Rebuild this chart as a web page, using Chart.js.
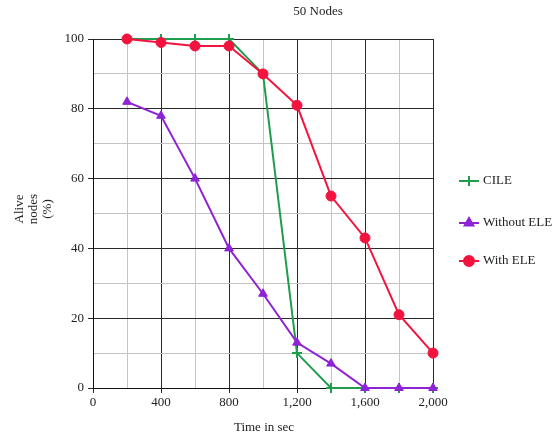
<!DOCTYPE html>
<html>
<head>
<meta charset="utf-8">
<script src="https://cdn.jsdelivr.net/npm/chart.js@4"></script>
<style>
  html, body { margin: 0; padding: 0; background: #fff; }
  #wrap { width: 553px; height: 438px; position: relative; }
</style>
</head>
<body>
<div id="wrap"><canvas id="c" width="553" height="438"></canvas></div>
<script>
// data
const times = [200, 400, 600, 800, 1000, 1200, 1400, 1600, 1800, 2000];
const cile = [100, 100, 100, 100, 90, 10, 0, 0, 0, 0];
const withoutEle = [82, 78, 60, 40, 27, 13, 7, 0, 0, 0];
const withEle = [100, 99, 98, 98, 90, 81, 55, 43, 21, 10];
const xTicks = [0, 400, 800, 1200, 1600, 2000];
const yTicks = [0, 20, 40, 60, 80, 100];

const GREEN = '#1e9e4c';
const PURPLE = '#8e22d6';
const RED = '#f2143e';
const FONT = '"Liberation Serif", "Times New Roman", serif';

function pts(vals) {
    return times.map((t, i) => ({ x: t, y: vals[i] }));
}

const series = [
    { label: 'CILE', data: cile, color: GREEN, style: 'cross', r: 5, order: 2 },
    { label: 'Without ELE', data: withoutEle, color: PURPLE, style: 'triangle', r: 5, order: 1 },
    { label: 'With ELE', data: withEle, color: RED, style: 'circle', r: 5, order: 0 }
];

// legend rows (y centre of each row)
const legendY = [181, 223, 261];

const textPlugin = {
    id: 'texts',
    afterDraw(chart) {
        const ctx = chart.ctx;
        ctx.save();
        ctx.fillStyle = '#222';
        ctx.font = '13px ' + FONT;
        ctx.textAlign = 'center';
        ctx.textBaseline = 'middle';
        ctx.fillText('50 Nodes', 318, 12);
        ctx.fillText('Time in sec', 264, 428);

        // y title, three rotated lines
        const yLines = ['Alive', 'nodes', '(%)'];
        yLines.forEach((s, i) => {
            ctx.save();
            ctx.translate(20 + i * 14, 209);
            ctx.rotate(-Math.PI / 2);
            ctx.fillText(s, 0, 0);
            ctx.restore();
        });

        // legend
        series.forEach((s, i) => {
            const y = legendY[i];
            ctx.strokeStyle = s.color;
            ctx.lineWidth = 2;
            ctx.beginPath();
            ctx.moveTo(459, y);
            ctx.lineTo(479, y);
            ctx.stroke();
            ctx.fillStyle = s.color;
            Chart.helpers.drawPoint(ctx, { pointStyle: s.style, radius: s.r, borderWidth: 2 }, 469, y);
            if (s.style !== 'cross') ctx.fill();
            ctx.fillStyle = '#222';
            ctx.textAlign = 'left';
            ctx.fillText(s.label, 483, y);
        });
        ctx.restore();
    }
};

function gridColor(c) {
    const v = c.tick ? c.tick.value : 0;
    const major = c.scale.axis === 'x' ? v % 400 === 0 : v % 20 === 0;
    return major ? '#2a2a2a' : '#c4c4c4';
}

function tickColor(c) {
    const v = c.tick ? c.tick.value : 0;
    const major = c.scale.axis === 'x' ? v % 400 === 0 : v % 20 === 0;
    return major ? '#2a2a2a' : 'rgba(0,0,0,0)';
}

new Chart(document.getElementById('c'), {
    type: 'line',
    data: {
        datasets: series.map(s => ({
            label: s.label,
            data: pts(s.data),
            borderColor: s.color,
            backgroundColor: s.color,
            pointBackgroundColor: s.color,
            pointBorderColor: s.color,
            pointStyle: s.style,
            pointRadius: s.r,
            pointBorderWidth: s.style === 'cross' ? 2 : 1,
            borderWidth: 2,
            tension: 0,
            clip: false,
            order: s.order
        }))
    },
    options: {
        responsive: false,
        animation: false,
        layout: { padding: { top: 39, right: 120, left: 0, bottom: 0 } },
        plugins: {
            legend: { display: false },
            tooltip: { enabled: false }
        },
        scales: {
            x: {
                type: 'linear',
                min: 0,
                max: 2000,
                afterFit(s) { s.height = 50; },
                afterBuildTicks(s) {
                    s.ticks = [];
                    for (let v = 0; v <= 2000; v += 200) s.ticks.push({ value: v });
                },
                ticks: {
                    autoSkip: false,
                    maxRotation: 0,
                    padding: 2,
                    color: '#222',
                    font: { family: FONT, size: 13 },
                    callback: v => xTicks.includes(v) ? v.toLocaleString('en-US') : ''
                },
                grid: { color: gridColor, tickColor: tickColor, tickLength: 5, lineWidth: 1 },
                border: { color: '#111', width: 1 }
            },
            y: {
                min: 0,
                max: 100,
                afterFit(s) { s.width = 93; },
                afterBuildTicks(s) {
                    s.ticks = [];
                    for (let v = 0; v <= 100; v += 10) s.ticks.push({ value: v });
                },
                ticks: {
                    autoSkip: false,
                    padding: 4,
                    color: '#222',
                    font: { family: FONT, size: 13 },
                    callback: v => yTicks.includes(v) ? String(v) : ''
                },
                grid: { color: gridColor, tickColor: tickColor, tickLength: 5, lineWidth: 1 },
                border: { color: '#111', width: 1 }
            }
        }
    },
    plugins: [textPlugin]
});
</script>
</body>
</html>
